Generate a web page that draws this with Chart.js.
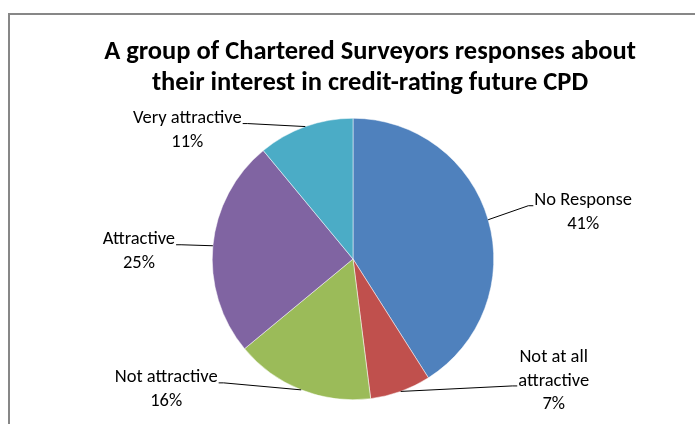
<!DOCTYPE html>
<html>
<head>
<meta charset="utf-8">
<script src="https://cdn.jsdelivr.net/npm/chart.js@4/dist/chart.umd.min.js"></script>
<style>
  body { margin: 0; background: #fff; overflow: hidden; }
  #myChart { position: absolute; left: 0; top: 0; }
</style>
</head>
<body>
<canvas id="myChart" width="695" height="424"></canvas>
<script>
// chart data
var categories = ['No Response', 'Not at all attractive', 'Not attractive', 'Attractive', 'Very attractive'];
var percents = [41, 7, 16, 25, 11];
var titleLines = ['A group of Chartered Surveyors responses about', 'their interest in credit-rating future CPD'];

var colors = ['#4F81BD', '#C0504D', '#9BBB59', '#8064A2', '#4BACC6'];
var FONT = 'Carlito, Lato, sans-serif';

// where each label sits relative to the middle of its slice edge
var labelPlace = [
  { lines: ['No Response'], dx: 95, dy: -19, side: 'left', attach: 0 },
  { lines: ['Not at all', 'attractive'], dx: 153, dy: -34, side: 'left', attach: 1 },
  { lines: ['Not attractive'], dx: -135, dy: -12, side: 'right', attach: 0 },
  { lines: ['Attractive'], dx: -74, dy: -6, side: 'right', attach: 0 },
  { lines: ['Very attractive'], dx: -118, dy: -8, side: 'right', attach: 0 }
];

var framePlugin = {
  id: 'frame',
  beforeDraw: function (chart) {
    var c = chart.ctx;
    c.save();
    c.strokeStyle = '#878787';
    c.lineWidth = 2;
    c.beginPath();
    c.moveTo(9, 424);
    c.lineTo(9, 14);
    c.lineTo(695, 14);
    c.stroke();
    c.restore();
  }
};

var titlePlugin = {
  id: 'titleText',
  afterDraw: function (chart) {
    var c = chart.ctx;
    c.save();
    c.fillStyle = '#000';
    c.font = 'bold 26.5px ' + FONT;
    c.textAlign = 'center';
    c.textBaseline = 'middle';
    c.fillText(titleLines[0], 370, 52);
    c.fillText(titleLines[1], 370, 83);
    c.restore();
  }
};

var labelPlugin = {
  id: 'pieLabels',
  afterDatasetsDraw: function (chart) {
    var c = chart.ctx;
    var arcs = chart.getDatasetMeta(0).data;
    c.save();
    c.font = '18.5px ' + FONT;
    c.fillStyle = '#000';
    c.strokeStyle = '#000';
    c.lineWidth = 1;
    c.textAlign = 'center';
    c.textBaseline = 'middle';
    arcs.forEach(function (arc, i) {
      var p = labelPlace[i];
      var mid = (arc.startAngle + arc.endAngle) / 2;
      var ax = arc.x + Math.cos(mid) * arc.outerRadius;
      var ay = arc.y + Math.sin(mid) * arc.outerRadius;
      var cx = ax + p.dx;
      var cy = ay + p.dy;
      var lines = p.lines.concat([percents[i] + '%']);
      lines.forEach(function (t, k) {
        c.fillText(t, cx, cy + k * 23.5);
      });
      var w = c.measureText(p.lines[p.attach]).width;
      var ly = cy + p.attach * 23.5 + 5;
      var tx = p.side === 'left' ? cx - w / 2 - 1 : cx + w / 2 + 1;
      var ex = p.side === 'left' ? tx - 5 : tx + 5;
      c.beginPath();
      c.moveTo(ax, ay);
      c.lineTo(ex, ly);
      c.lineTo(tx, ly);
      c.stroke();
    });
    c.restore();
  }
};

var ctx = document.getElementById('myChart').getContext('2d');
var chart = new Chart(ctx, {
  type: 'pie',
  data: {
    labels: categories,
    datasets: [
      {
        data: percents,
        backgroundColor: colors,
        borderColor: '#ffffff',
        borderWidth: 0.5
      }
    ]
  },
  options: {
    responsive: false,
    animation: false,
    layout: {
      padding: { top: 118, bottom: 24, left: 11, right: 0 }
    },
    plugins: {
      legend: { display: false },
      title: { display: false },
      tooltip: { enabled: false }
    }
  },
  plugins: [framePlugin, titlePlugin, labelPlugin]
});
</script>
</body>
</html>
